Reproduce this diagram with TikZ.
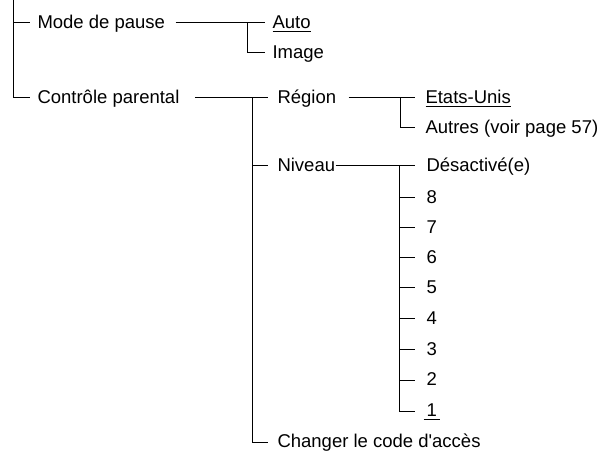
\documentclass[tikz,border=0pt]{standalone}
\usepackage{fontspec}
\setmainfont{Liberation Sans}
\usetikzlibrary{positioning}

\begin{document}
\begin{tikzpicture}[x=0.5pt,y=-0.5pt,line width=0.5pt,
  every node/.style={anchor=mid west,inner sep=0pt,font=\fontsize{9.25}{11}\selectfont}]
\useasboundingbox (0,0) rectangle (598,453);
% level 1
\coordinate (root) at (13,0);
\node (mode) at (37,23) {Mode de pause};
\node (ctrl) at (37,98) {Contrôle parental};
\draw (root) |- ([xshift=-3.5pt]mode.mid west);
\draw (root) |- ([xshift=-3.5pt]ctrl.mid west);
% mode de pause
\node (auto) at (272,23) {\underline{Auto}};
\node (image) at (272,53) {Image};
\coordinate (modej) at (247,23);
\draw ([xshift=5pt]mode.mid east) -- ([xshift=-3.5pt]auto.mid west);
\draw (modej) |- ([xshift=-3.5pt]image.mid west);
% controle parental
\node (region) at (277,98) {Région};
\node (niveau) at (277,166) {Niveau};
\node (code) at (277,442) {Changer le code d\textquotesingle accès};
\coordinate (ctrlj) at (252,98);
\draw ([xshift=7.5pt]ctrl.mid east) -- ([xshift=-4.5pt]region.mid west);
\draw (ctrlj) |- ([xshift=-4.5pt]niveau.mid west);
\draw (ctrlj) |- ([xshift=-4.5pt]code.mid west);
% region
\node (usa) at (425,98) {\underline{Etats-Unis}};
\node (autres) at (425,128) {Autres (voir page 57)};
\coordinate (regionj) at (400,98);
\draw ([xshift=6pt]region.mid east) -- ([xshift=-5pt]usa.mid west);
\draw (regionj) |- ([xshift=-5pt]autres.mid west);
% niveau
\node (off) at (426,166) {Désactivé(e)};
\coordinate (niveauj) at (399,166);
\draw (niveau.mid east) -- ([xshift=-5.5pt]off.mid west);
\foreach \n/\y in {8/198,7/228,6/258,5/288,4/319,3/350,2/380}{
  \node (lvl\n) at (426,\y) {\n};
  \draw (niveauj) |- ([xshift=-5.5pt]lvl\n.mid west);
}
\node (lvl1) at (423,411) {\underline{\,1\,}};
\draw (niveauj) |- ([xshift=-4pt]lvl1.mid west);
\end{tikzpicture}
\end{document}
